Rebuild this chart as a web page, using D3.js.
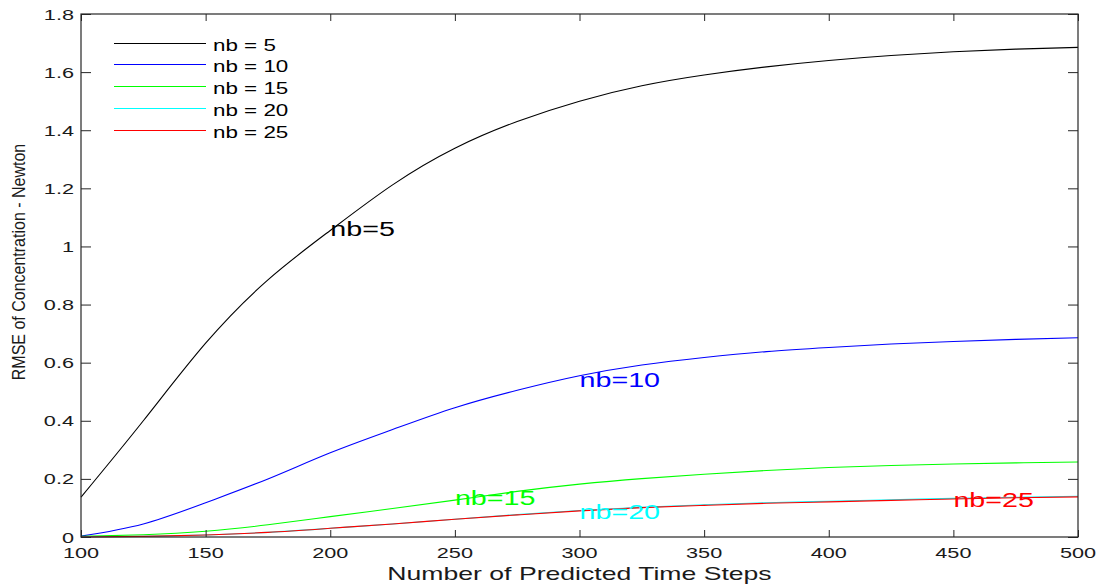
<!DOCTYPE html>
<html>
<head>
<meta charset="utf-8">
<script src="https://cdn.jsdelivr.net/npm/d3@7"></script>
<style>
  html, body { margin: 0; padding: 0; background: #fff; }
  svg { display: block; font-family: "Liberation Sans", Arial, Helvetica, sans-serif; }
</style>
</head>
<body>
<svg id="chart" width="1104" height="588"></svg>
<script>
// Prediction horizon (number of predicted time steps)
const steps = [100, 125, 150, 175, 200, 225, 250, 275, 300, 325, 350, 375, 400, 425, 450, 475, 500];

// RMSE of concentration (Newton) for each number of basis functions nb
const rmseNb5  = [0.137, 0.400, 0.667, 0.885, 1.055, 1.212, 1.338, 1.430, 1.500, 1.553, 1.590, 1.618, 1.640, 1.657, 1.670, 1.679, 1.685];
const rmseNb10 = [0.003, 0.045, 0.118, 0.200, 0.290, 0.370, 0.445, 0.505, 0.555, 0.592, 0.618, 0.638, 0.652, 0.664, 0.673, 0.680, 0.686];
const rmseNb15 = [0.002, 0.008, 0.020, 0.042, 0.070, 0.098, 0.127, 0.157, 0.182, 0.201, 0.216, 0.229, 0.239, 0.246, 0.251, 0.255, 0.258];
const rmseNb20 = [0.000, 0.002, 0.007, 0.016, 0.030, 0.045, 0.061, 0.077, 0.091, 0.102, 0.111, 0.118, 0.123, 0.128, 0.133, 0.137, 0.140];
const rmseNb25 = [0.000, 0.002, 0.007, 0.016, 0.030, 0.045, 0.061, 0.076, 0.090, 0.101, 0.109, 0.116, 0.121, 0.126, 0.131, 0.135, 0.138];

const seriesNames  = ["nb = 5", "nb = 10", "nb = 15", "nb = 20", "nb = 25"];
const seriesLabels = ["nb=5", "nb=10", "nb=15", "nb=20", "nb=25"];
// Anchor (step, value) of each in-plot label
const labelSteps  = [200, 300, 250, 300, 450];
const labelValues = [1.06, 0.54, 0.134, 0.086, 0.127];

const xTicks = [100, 150, 200, 250, 300, 350, 400, 450, 500];
const yTicks = [0, 0.2, 0.4, 0.6, 0.8, 1, 1.2, 1.4, 1.6, 1.8];
const yTickLabels = ["0", "0.2", "0.4", "0.6", "0.8", "1", "1.2", "1.4", "1.6", "1.8"];

const xTitle = "Number of Predicted Time Steps";
const yTitle = "RMSE of Concentration - Newton";

// ---- drawing ----
const colors = ["#000000", "#0000ff", "#00ff00", "#00ffff", "#ff0000"];
const seriesValues = [rmseNb5, rmseNb10, rmseNb15, rmseNb20, rmseNb25];
const STRETCH = 1.4;         // wide text proportions of the figure
const axisColor = "#262626";

const svg = d3.select("#chart");
const plot = { left: 81, right: 1078, top: 14, bottom: 537 };

const x = d3.scaleLinear().domain([100, 500]).range([plot.left, plot.right]);
const y = d3.scaleLinear().domain([0, 1.8]).range([plot.bottom, plot.top]);

// curves (cyan drawn under red, following the series order)
const line = d3.line()
  .x((d, i) => x(steps[i]))
  .y(d => y(d))
  .curve(d3.curveNatural);

const curves = svg.append("g");
seriesValues.forEach((vals, k) => {
  curves.append("path")
    .attr("d", line(vals))
    .attr("fill", "none")
    .attr("stroke", colors[k])
    .attr("stroke-width", 1.1);
});

// axes box with inward ticks on all four sides
const axes = svg.append("g");
const bottomAxis = d3.axisBottom(x).tickValues(xTicks).tickSize(-7).tickFormat("");
const topAxis    = d3.axisTop(x).tickValues(xTicks).tickSize(-7).tickFormat("");
const leftAxis   = d3.axisLeft(y).tickValues(yTicks).tickSize(-10).tickFormat("");
const rightAxis  = d3.axisRight(y).tickValues(yTicks).tickSize(-10).tickFormat("");

function styleAxis(g) {
  g.select("path.domain").remove();
  g.selectAll(".tick line").attr("stroke", axisColor).attr("stroke-width", 1);
}
axes.append("g").attr("transform", `translate(0,${plot.bottom})`).call(bottomAxis).call(styleAxis);
axes.append("g").attr("transform", `translate(0,${plot.top})`).call(topAxis).call(styleAxis);
axes.append("g").attr("transform", `translate(${plot.left},0)`).call(leftAxis).call(styleAxis);
axes.append("g").attr("transform", `translate(${plot.right},0)`).call(rightAxis).call(styleAxis);
axes.append("rect")
  .attr("x", plot.left).attr("y", plot.top)
  .attr("width", plot.right - plot.left).attr("height", plot.bottom - plot.top)
  .attr("fill", "none").attr("stroke", axisColor).attr("stroke-width", 1.2);

// tick labels
const txt = svg.append("g").attr("fill", "#1a1a1a");
xTicks.forEach(t => {
  txt.append("text")
    .attr("transform", `translate(${x(t)},${plot.bottom + 21}) scale(${STRETCH},1)`)
    .attr("text-anchor", "middle")
    .attr("font-size", 15.5)
    .text(t);
});
yTicks.forEach((t, i) => {
  txt.append("text")
    .attr("transform", `translate(${plot.left - 7},${y(t) + 5.5}) scale(${STRETCH},1)`)
    .attr("text-anchor", "end")
    .attr("font-size", 15.5)
    .text(yTickLabels[i]);
});

// axis titles
txt.append("text")
  .attr("transform", `translate(${(plot.left + plot.right) / 2},${plot.bottom + 43}) scale(${STRETCH},1)`)
  .attr("text-anchor", "middle")
  .attr("font-size", 19)
  .text(xTitle);
txt.append("text")
  .attr("transform", `translate(25,262) scale(1.15,1) rotate(-90)`)
  .attr("text-anchor", "middle")
  .attr("font-size", 16)
  .text(yTitle);

// legend (no frame)
const legend = svg.append("g");
seriesNames.forEach((name, k) => {
  const ly = Math.round(42.7 + k * 21.7) + 0.5;
  legend.append("line")
    .attr("x1", 114).attr("x2", 206)
    .attr("y1", ly).attr("y2", ly)
    .attr("stroke", colors[k]).attr("stroke-width", 1.1);
  legend.append("text")
    .attr("transform", `translate(213,${ly + 7}) scale(${STRETCH},1)`)
    .attr("font-size", 16)
    .attr("fill", "#000")
    .text(name);
});

// in-plot labels
seriesLabels.forEach((lab, k) => {
  svg.append("text")
    .attr("transform", `translate(${x(labelSteps[k])},${y(labelValues[k]) + 7.3}) scale(${STRETCH},1)`)
    .attr("font-size", 20.5)
    .attr("fill", colors[k])
    .text(lab);
});
</script>
</body>
</html>
